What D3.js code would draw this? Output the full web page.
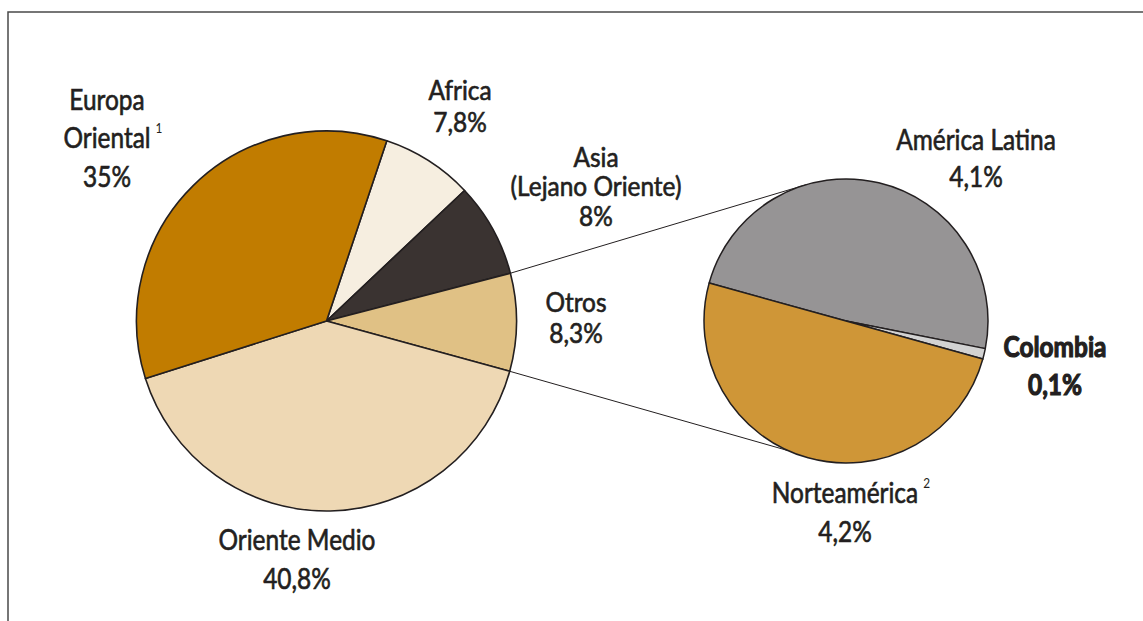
<!DOCTYPE html>
<html>
<head>
<meta charset="utf-8">
<script src="https://cdn.jsdelivr.net/npm/d3@7"></script>
<style>
  body { margin: 0; background: #fff; }
  text { font-family: Lato, "DejaVu Sans Condensed", sans-serif; fill: #231f20; }
</style>
</head>
<body>
<div class="Graph"></div>
<script>
// datos: reservas por region (%)
const regiones = ["Africa", "Asia (Lejano Oriente)", "Otros", "Oriente Medio", "Europa Oriental"];
const valores = [7.8, 8, 8.3, 40.8, 35];
const colores = ["#f6eee0", "#3a3331", "#e0c185", "#eed8b4", "#c17c00"];

// desglose de "Otros"
const otros = ["América Latina", "Colombia", "Norteamérica"];
const otrosVal = [4.1, 0.1, 4.2];
const otrosCol = ["#969495", "#d2d2d2", "#cf9637"];

const W = 1143, H = 621;
const rad = Math.PI / 180;

const svg = d3.select(".Graph").append("svg")
    .attr("width", W).attr("height", H);

// marco
svg.append("path")
    .attr("d", "M8," + H + "V12H" + W)
    .attr("fill", "none").attr("stroke", "#4a4a4a").attr("stroke-width", 1.5);

//==========================//pie grande
const c1 = [326.5, 321], r1 = 190;
const a1 = 18.5 * rad;
const pie1 = d3.pie().sort(null).value(d => d)
    .startAngle(a1).endAngle(a1 + 2 * Math.PI);
const arc1 = d3.arc().innerRadius(0).outerRadius(r1);
const s1 = pie1(valores);

svg.append("g").attr("transform", "translate(" + c1 + ")")
  .selectAll("path").data(s1).enter().append("path")
    .attr("d", arc1)
    .attr("fill", (d, i) => colores[i])
    .attr("stroke", "#231f20").attr("stroke-width", 1.6)
    .attr("stroke-linejoin", "round");

//==========================//pie chico
const c2 = [846, 321], r2 = 142;
const a2 = -74.5 * rad;
const pie2 = d3.pie().sort(null).value(d => d)
    .startAngle(a2).endAngle(a2 + 2 * Math.PI);
const arc2 = d3.arc().innerRadius(0).outerRadius(r2);
const s2 = pie2(otrosVal);

// lineas de conexion (desde los bordes de "Otros")
const pt = (c, r, a) => [c[0] + r * Math.sin(a), c[1] - r * Math.cos(a)];
const otrosSlice = s1[2];
const conn = [
  [pt(c1, r1, otrosSlice.startAngle), pt(c2, r2, -16.2 * rad)],
  [pt(c1, r1, otrosSlice.endAngle), pt(c2, r2, 204.2 * rad)]
];
svg.append("g").selectAll("line").data(conn).enter().append("line")
    .attr("x1", d => d[0][0]).attr("y1", d => d[0][1])
    .attr("x2", d => d[1][0]).attr("y2", d => d[1][1])
    .attr("stroke", "#231f20").attr("stroke-width", 1);

svg.append("g").attr("transform", "translate(" + c2 + ")")
  .selectAll("path").data(s2).enter().append("path")
    .attr("d", arc2)
    .attr("fill", (d, i) => otrosCol[i])
    .attr("stroke", "#231f20").attr("stroke-width", 1.5)
    .attr("stroke-linejoin", "round");

//==========================//etiquetas
const fmt = v => String(v).replace(".", ",") + "%";
const labels = [
  { lines: ["Europa", "Oriental", fmt(valores[4])], x: 107, y: 110, dy: 38.5, fs: 29, sup: "1", supLine: 1 },
  { lines: ["Africa", fmt(valores[0])], x: 460, y: 100, dy: 32, fs: 27 },
  { lines: ["Asia", "(Lejano Oriente)", fmt(valores[1])], x: 596, y: 167, dy: 29.5, fs: 27 },
  { lines: ["Otros", fmt(valores[2])], x: 576, y: 312, dy: 31, fs: 27 },
  { lines: ["Oriente Medio", fmt(valores[3])], x: 297, y: 550, dy: 39, fs: 29 },
  { lines: [otros[0], fmt(otrosVal[0])], x: 976, y: 150, dy: 37, fs: 29 },
  { lines: [otros[1], fmt(otrosVal[1])], x: 1055, y: 357, dy: 38, fs: 29, bold: true },
  { lines: [otros[2], fmt(otrosVal[2])], x: 845, y: 503, dy: 39, fs: 29, sup: "2", supLine: 0 }
];

// la fuente original es condensada: se comprime en horizontal
const probe = svg.append("text").attr("font-size", 29).text("Oriente Medio");
const sx = 157 / probe.node().getComputedTextLength();
probe.remove();

labels.forEach(l => {
  const k = sx * 29 / l.fs;
  const g = svg.append("g")
      .attr("transform", "translate(" + l.x + "," + l.y + ") scale(" + k + ",1)");
  const t = g.append("text")
      .attr("text-anchor", "middle")
      .attr("font-size", l.fs)
      .attr("font-weight", l.bold ? "bold" : "normal")
      .attr("stroke", "#231f20").attr("stroke-width", l.bold ? 1.2 : 0.65);
  const spans = l.lines.map((s, i) =>
    t.append("tspan").attr("x", 0).attr("y", i * l.dy).text(s));
  if (l.sup) {
    const w = spans[l.supLine].node().getComputedTextLength();
    g.append("text").attr("x", w / 2 + 10).attr("y", l.supLine * l.dy - 15)
      .attr("text-anchor", "middle").attr("font-size", 14).text(l.sup);
  }
});
</script>
</body>
</html>
